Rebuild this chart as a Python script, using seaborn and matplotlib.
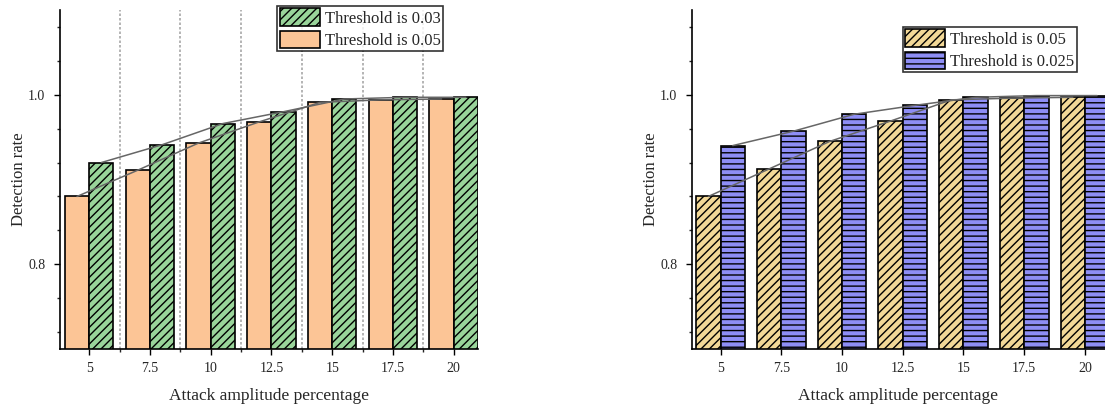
import numpy as np
import pandas as pd
import matplotlib
matplotlib.use("Agg")
import matplotlib.pyplot as plt
from matplotlib.patches import Patch
from matplotlib.ticker import MultipleLocator, FormatStrFormatter
import seaborn as sns

sns.set_theme(style="ticks")
plt.rcParams['font.family'] = ['Liberation Serif', 'DejaVu Serif']
plt.rcParams['hatch.linewidth'] = 1.0

# data
amplitudes = ["5", "7.5", "10", "12.5", "15", "17.5", "20"]

left_thr005 = [0.880, 0.911, 0.943, 0.968, 0.991, 0.994, 0.995]
left_thr003 = [0.920, 0.941, 0.966, 0.980, 0.995, 0.997, 0.997]

right_thr005 = [0.880, 0.9125, 0.945, 0.969, 0.994, 0.996, 0.997]
right_thr0025 = [0.940, 0.957, 0.977, 0.9875, 0.997, 0.999, 0.999]

def long_df(first, second, name1, name2):
    return pd.DataFrame({
        "amp": amplitudes * 2,
        "rate": first + second,
        "series": [name1] * len(amplitudes) + [name2] * len(amplitudes),
    })

def draw_panel(ax, df, names, colors, hatches, legend_order, legend_anchor):
    sns.barplot(data=df, x="amp", y="rate", hue="series", hue_order=names,
                order=amplitudes, palette=colors, saturation=1, width=0.8, dodge=True,
                edgecolor="black", linewidth=1.2, legend=False, ax=ax, zorder=2)
    # hatch patterns and connecting lines over the bar tops
    n = len(amplitudes)
    bars = [p for p in ax.patches if p.get_height() > 0]
    for k, name in enumerate(names):
        group = bars[k * n:(k + 1) * n]
        for p in group:
            p.set_hatch(hatches[k])
        xs = [p.get_x() + p.get_width() / 2 for p in group]
        ys = [p.get_height() for p in group]
        ax.plot(xs, ys, color="#666666", lw=1.1, zorder=3)

    ax.set_ylim(0.7, 1.1)
    ax.yaxis.set_major_locator(MultipleLocator(0.2))
    ax.yaxis.set_minor_locator(MultipleLocator(0.04))
    ax.yaxis.set_major_formatter(FormatStrFormatter("%.1f"))
    ax.set_xlabel("Attack amplitude percentage", fontsize=12.5, labelpad=9)
    ax.set_ylabel("Detection rate", fontsize=12, labelpad=1)
    ax.tick_params(axis="both", labelsize=10, length=4.5, width=1, color="black")
    ax.tick_params(axis="y", which="minor", length=2.5, width=1)
    ax.tick_params(axis="y", pad=6)
    ax.tick_params(axis="x", pad=5)
    sns.despine(ax=ax)
    for s in ["left", "bottom"]:
        ax.spines[s].set_color("black")
        ax.spines[s].set_linewidth(1.2)

    handles = [Patch(facecolor=colors[i], edgecolor="black", hatch=hatches[i], lw=1.2)
               for i in legend_order]
    labels = [names[i] for i in legend_order]
    leg = ax.legend(handles, labels, loc="upper right", bbox_to_anchor=legend_anchor,
                    fontsize=12, frameon=True, fancybox=False, edgecolor="black",
                    handlelength=2.4, handleheight=1.2, labelspacing=0.25,
                    borderpad=0.15, handletextpad=0.3, borderaxespad=0)
    leg.get_frame().set_linewidth(1.2)

fig = plt.figure(figsize=(11.05, 4.05), dpi=100)
ax1 = fig.add_axes([60 / 1105, 56 / 405, 418 / 1105, 339 / 405])
ax2 = fig.add_axes([692 / 1105, 56 / 405, 413 / 1105, 339 / 405])

draw_panel(ax1, long_df(left_thr005, left_thr003, "Threshold is 0.05", "Threshold is 0.03"),
           ["Threshold is 0.05", "Threshold is 0.03"], ["#FCC596", "#99D49A"],
           ["", "////"], [1, 0], (0.916, 1.012))
ax1.set_xlim(-0.48, 6.4)
# dotted separators between the groups
for i in range(len(amplitudes) - 1):
    ax1.axvline(i + 0.5, color="#A8A8A8", ls=(0, (1.5, 1.2)), lw=1.2, zorder=1)
ax1.set_xticks(np.arange(len(amplitudes) - 1) + 0.5, minor=True)
ax1.tick_params(axis="x", which="minor", length=2.5, width=1)

draw_panel(ax2, long_df(right_thr005, right_thr0025, "Threshold is 0.05", "Threshold is 0.025"),
           ["Threshold is 0.05", "Threshold is 0.025"], ["#F2D897", "#8E8EF5"],
           ["////", "---"], [0, 1], (0.932, 0.95))
ax2.set_xlim(-0.47, 6.33)

fig.savefig("out.png", dpi=100)
